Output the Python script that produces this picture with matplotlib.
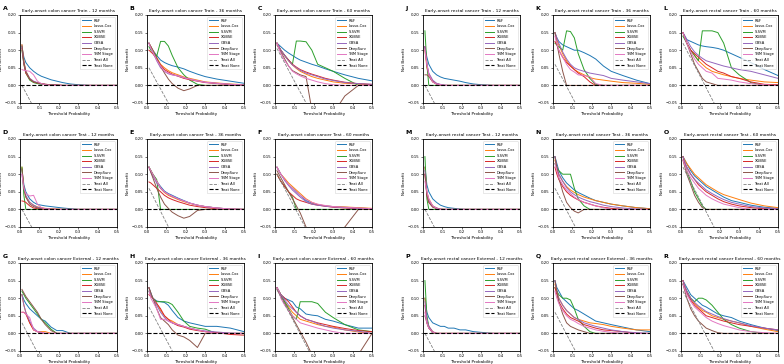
import numpy as np
import matplotlib
matplotlib.use("Agg")
import matplotlib.pyplot as plt

# threshold probabilities shared by every curve
thresholds = [0.01, 0.02, 0.03, 0.05, 0.07, 0.09, 0.11, 0.13, 0.16, 0.19, 0.22, 0.26, 0.3, 0.36, 0.43, 0.5]

models = ["RSF", "Lasso-Cox", "S-SVM", "XGBSE", "GBSA", "DeepSurv", "TNM Stage"]
model_colors = ["#1f77b4", "#ff7f0e", "#2ca02c", "#d62728", "#9467bd", "#8c564b", "#e377c2"]

cancers = ["colon", "rectal"]
cohorts = ["Train", "Test", "External"]
months = [12, 36, 60]

# net benefit per model (order of `models`) for each panel
nb_A = [
    [0.11, 0.08, 0.065, 0.05, 0.04, 0.032, 0.026, 0.022, 0.016, 0.012, 0.008, 0.004, 0.002, 0, 0, 0],
    [0.115, 0.07, 0.04, 0.02, 0.01, 0.007, 0.005, 0.003, 0.002, 0.001, 0, 0, 0, 0, 0, 0],
    [0.1, 0.06, 0.035, 0.015, 0.008, 0.005, 0.003, 0.002, 0.001, 0, 0, 0, 0, 0, 0, 0],
    [0.105, 0.06, 0.035, 0.018, 0.01, 0.007, 0.005, 0.003, 0.002, 0.001, 0, 0, 0, 0, 0, 0],
    [0.11, 0.065, 0.04, 0.02, 0.012, 0.008, 0.005, 0.003, 0.002, 0.001, 0, 0, 0, 0, 0, 0],
    [0.115, 0.065, 0.04, 0.018, 0.01, 0.007, 0.005, 0.003, 0.002, 0.001, 0, 0, 0, 0, 0, 0],
    [0.045, 0.043, 0.042, 0.04, 0.03, 0.012, 0.005, 0.002, 0, 0, 0, 0, 0, 0, 0, 0],
]
nb_B = [
    [0.12, 0.11, 0.1, 0.085, 0.072, 0.065, 0.06, 0.056, 0.052, 0.047, 0.04, 0.032, 0.025, 0.018, 0.012, 0.006],
    [0.12, 0.11, 0.1, 0.08, 0.06, 0.05, 0.042, 0.036, 0.03, 0.024, 0.02, 0.015, 0.01, 0.007, 0.004, 0.002],
    [0.11, 0.1, 0.095, 0.083, 0.125, 0.125, 0.112, 0.085, 0.05, 0.03, 0.015, 0.003, 0, 0, 0, 0],
    [0.1, 0.095, 0.09, 0.075, 0.058, 0.045, 0.038, 0.032, 0.026, 0.02, 0.016, 0.012, 0.008, 0.005, 0.002, 0],
    [0.12, 0.105, 0.095, 0.07, 0.05, 0.04, 0.033, 0.03, 0.027, 0.022, 0.018, 0.013, 0.009, 0.006, 0.003, 0.001],
    [0.12, 0.11, 0.1, 0.078, 0.055, 0.035, 0.018, 0.005, -0.008, -0.015, -0.01, 0, 0, 0, 0, 0],
    [0.12, 0.105, 0.095, 0.072, 0.055, 0.04, 0.035, 0.03, 0.027, 0.022, 0.018, 0.013, 0.009, 0.006, 0.003, 0.001],
]
nb_C = [
    [0.12, 0.115, 0.11, 0.1, 0.092, 0.085, 0.078, 0.072, 0.066, 0.06, 0.055, 0.047, 0.04, 0.03, 0.02, 0.013],
    [0.12, 0.11, 0.1, 0.085, 0.07, 0.058, 0.048, 0.04, 0.032, 0.025, 0.02, 0.015, 0.01, 0.006, 0.004, 0.002],
    [0.12, 0.11, 0.1, 0.085, 0.072, 0.06, 0.126, 0.126, 0.124, 0.1, 0.06, 0.05, 0.04, 0.02, 0, 0],
    [0.12, 0.11, 0.1, 0.085, 0.072, 0.06, 0.052, 0.045, 0.038, 0.032, 0.027, 0.02, 0.015, 0.009, 0.005, 0.003],
    [0.12, 0.11, 0.1, 0.085, 0.07, 0.058, 0.05, 0.043, 0.035, 0.03, 0.025, 0.018, 0.014, 0.008, 0.005, 0.003],
    [0.115, 0.105, 0.095, 0.075, 0.055, 0.042, 0.036, 0.03, 0.025, -0.07, -0.09, -0.09, -0.08, -0.03, 0, 0],
    [0.12, 0.105, 0.09, 0.07, 0.055, 0.04, 0.033, 0.027, 0.02, 0.015, 0.01, 0.005, 0.002, 0, 0, 0],
]
nb_D = [
    [0.115, 0.07, 0.05, 0.03, 0.02, 0.014, 0.012, 0.01, 0.008, 0.006, 0.004, 0.002, 0, 0, 0, 0],
    [0.12, 0.06, 0.035, 0.02, 0.012, 0.007, 0.005, 0.003, 0.002, 0.001, 0, 0, 0, 0, 0, 0],
    [0.12, 0.04, 0, 0, 0, 0, 0, 0, 0, 0, 0, 0, 0, 0, 0, 0],
    [0.024, 0.023, 0.02, 0.01, 0.004, 0.002, 0.001, 0, 0, 0, 0, 0, 0, 0, 0, 0],
    [0.1, 0.06, 0.04, 0.02, 0.012, 0.006, 0.004, 0.002, 0.001, 0, 0, 0, 0, 0, 0, 0],
    [0.115, 0.06, 0.035, 0.015, 0.008, 0.004, 0.002, 0.001, 0, 0, 0, 0, 0, 0, 0, 0],
    [0.1, 0.06, 0.045, 0.038, 0.04, 0.015, 0.005, 0.002, 0, 0, 0, 0, 0, 0, 0, 0],
]
nb_E = [
    [0.12, 0.11, 0.1, 0.08, 0.065, 0.052, 0.045, 0.04, 0.032, 0.025, 0.018, 0.012, 0.008, 0.004, 0.001, 0],
    [0.12, 0.11, 0.1, 0.08, 0.06, 0.048, 0.04, 0.035, 0.028, 0.022, 0.017, 0.012, 0.008, 0.004, 0.001, 0],
    [0.12, 0.11, 0.1, 0.085, 0, 0, 0, 0, 0, 0, 0, 0, 0, 0, 0, 0],
    [0.078, 0.075, 0.07, 0.06, 0.05, 0.04, 0.033, 0.028, 0.022, 0.017, 0.012, 0.008, 0.005, 0.002, 0, 0],
    [0.12, 0.105, 0.095, 0.075, 0.06, 0.05, 0.043, 0.037, 0.03, 0.024, 0.018, 0.012, 0.008, 0.004, 0.001, 0],
    [0.12, 0.105, 0.09, 0.06, 0.035, 0.015, 0.003, -0.008, -0.018, -0.025, -0.02, -0.003, 0, 0, 0, 0],
    [0.12, 0.11, 0.1, 0.08, 0.062, 0.05, 0.043, 0.038, 0.03, 0.024, 0.018, 0.012, 0.008, 0.004, 0.001, 0],
]
nb_F = [
    [0.12, 0.11, 0.1, 0.085, 0.07, 0.06, 0.05, 0.04, 0.025, 0.018, 0.013, 0.01, 0.008, 0.006, 0.004, 0.002],
    [0.12, 0.11, 0.1, 0.088, 0.075, 0.065, 0.055, 0.045, 0.03, 0.02, 0.014, 0.01, 0.008, 0.007, 0.005, 0.003],
    [0.1, 0.09, 0.08, 0.065, 0.05, 0.035, 0, 0, 0, 0, 0, 0, 0, 0, 0, 0],
    [0.1, 0.09, 0.08, 0.065, 0.05, 0.04, 0.03, 0.025, 0.02, 0.015, 0.012, 0.009, 0.006, 0.004, 0.002, 0.001],
    [0.12, 0.11, 0.1, 0.082, 0.068, 0.055, 0.045, 0.035, 0.022, 0.015, 0.012, 0.009, 0.007, 0.005, 0.003, 0.002],
    [0.11, 0.1, 0.09, 0.07, 0.05, 0.03, 0.01, -0.01, -0.05, -0.08, -0.09, -0.09, -0.08, -0.05, 0, 0],
    [0.12, 0.11, 0.1, 0.085, 0.07, 0.06, 0.05, 0.04, 0.028, 0.02, 0.015, 0.011, 0.008, 0.006, 0.004, 0.002],
]
nb_G = [
    [0.11, 0.095, 0.085, 0.07, 0.06, 0.05, 0.04, 0.035, 0.018, 0.008, 0.008, 0, 0, 0, 0, 0],
    [0.11, 0.08, 0.06, 0.03, 0.01, 0.005, 0.005, 0.005, 0, 0, 0, 0, 0, 0, 0, 0],
    [0.12, 0.11, 0.1, 0.085, 0.07, 0.055, 0.04, 0.03, 0.012, 0, 0, 0, 0, 0, 0, 0],
    [0.06, 0.06, 0.055, 0.03, 0.01, 0.005, 0, 0, 0, 0, 0, 0, 0, 0, 0, 0],
    [0.11, 0.08, 0.06, 0.035, 0.015, 0.005, 0.003, 0, 0, 0, 0, 0, 0, 0, 0, 0],
    [0.125, 0.115, 0.105, 0.09, 0.075, 0.06, 0.04, 0.025, 0.008, 0, 0, 0, 0, 0, 0, 0],
    [0.06, 0.06, 0.055, 0.045, 0.01, 0.005, 0.003, 0, 0, 0, 0, 0, 0, 0, 0, 0],
]
nb_H = [
    [0.13, 0.115, 0.1, 0.092, 0.09, 0.088, 0.08, 0.065, 0.045, 0.035, 0.03, 0.025, 0.02, 0.02, 0.015, 0.005],
    [0.13, 0.11, 0.1, 0.085, 0.065, 0.05, 0.04, 0.035, 0.025, 0.02, 0.015, 0.01, 0.005, 0.002, 0, 0],
    [0.12, 0.11, 0.1, 0.09, 0.09, 0.09, 0.088, 0.082, 0.06, 0.035, 0.02, 0.015, 0.012, 0, 0, 0],
    [0.11, 0.105, 0.1, 0.085, 0.07, 0.05, 0.04, 0.03, 0.022, 0.018, 0.012, 0.008, 0.005, 0.002, -0.003, -0.005],
    [0.13, 0.11, 0.1, 0.08, 0.06, 0.045, 0.035, 0.03, 0.025, 0.02, 0.015, 0.01, 0.007, 0.004, 0.001, 0],
    [0.13, 0.115, 0.1, 0.07, 0.045, 0.035, 0.025, 0.01, -0.005, -0.01, -0.02, -0.04, 0, 0, 0, 0],
    [0.12, 0.1, 0.09, 0.07, 0.04, 0.04, 0.035, 0.03, 0.025, 0.02, 0.015, 0.01, 0.005, 0, 0, 0],
]
nb_I = [
    [0.13, 0.12, 0.11, 0.1, 0.095, 0.09, 0.075, 0.07, 0.055, 0.052, 0.05, 0.04, 0.035, 0.025, 0.015, 0.015],
    [0.13, 0.12, 0.11, 0.09, 0.075, 0.06, 0.05, 0.04, 0.035, 0.03, 0.025, 0.02, 0.018, 0.01, 0.004, 0],
    [0.13, 0.12, 0.11, 0.09, 0.07, 0.05, 0.04, 0.09, 0.09, 0.09, 0.085, 0.06, 0.045, 0.025, 0.01, 0.005],
    [0.13, 0.12, 0.11, 0.1, 0.09, 0.075, 0.06, 0.05, 0.04, 0.035, 0.03, 0.025, 0.02, 0.014, 0.008, 0.005],
    [0.13, 0.12, 0.11, 0.095, 0.08, 0.07, 0.06, 0.05, 0.04, 0.035, 0.028, 0.02, 0.015, 0.01, 0.006, 0],
    [0.125, 0.115, 0.105, 0.085, 0.065, 0.045, 0.025, 0.005, -0.025, -0.06, -0.09, -0.1, -0.1, -0.09, -0.06, 0],
    [0.13, 0.12, 0.1, 0.08, 0.065, 0.05, 0.04, 0.03, 0.025, 0.02, 0.015, 0.01, 0.005, 0, 0, 0],
]
nb_J = [
    [0.11, 0.08, 0.06, 0.04, 0.03, 0.024, 0.02, 0.018, 0.015, 0.012, 0.008, 0.004, 0.002, 0, 0, 0],
    [0.1, 0.05, 0.03, 0.01, 0.005, 0.002, 0, 0, 0, 0, 0, 0, 0, 0, 0, 0],
    [0.155, 0.06, 0, 0, 0, 0, 0, 0, 0, 0, 0, 0, 0, 0, 0, 0],
    [0.11, 0.06, 0.03, 0.012, 0.005, 0.002, 0, 0, 0, 0, 0, 0, 0, 0, 0, 0],
    [0.11, 0.06, 0.035, 0.015, 0.006, 0.003, 0.001, 0, 0, 0, 0, 0, 0, 0, 0, 0],
    [0.03, 0.03, 0.025, 0.01, 0.003, 0, 0, 0, 0, 0, 0, 0, 0, 0, 0, 0],
    [0.1, 0.06, 0.03, 0.01, 0.004, 0.002, 0, 0, 0, 0, 0, 0, 0, 0, 0, 0],
]
nb_K = [
    [0.15, 0.135, 0.125, 0.115, 0.11, 0.105, 0.1, 0.1, 0.093, 0.085, 0.075, 0.055, 0.04, 0.028, 0.015, 0.005],
    [0.15, 0.13, 0.115, 0.09, 0.07, 0.055, 0.045, 0.038, 0.03, 0.022, 0.018, 0.015, 0.012, 0.008, 0.006, 0.003],
    [0.12, 0.115, 0.11, 0.1, 0.155, 0.153, 0.135, 0.09, 0.045, 0.02, 0.003, 0, 0, 0, 0, 0],
    [0.125, 0.115, 0.1, 0.08, 0.065, 0.055, 0.045, 0.035, 0.025, 0.01, 0, 0, 0, 0, 0, 0],
    [0.15, 0.135, 0.12, 0.095, 0.075, 0.06, 0.05, 0.045, 0.04, 0.035, 0.032, 0.028, 0.02, 0.015, 0.01, 0.005],
    [0.15, 0.12, 0.09, 0.04, 0, 0, 0, 0, 0, 0, 0, 0, 0, 0, 0, 0],
    [0.14, 0.12, 0.1, 0.08, 0.06, 0.045, 0.038, 0.03, 0.028, 0.025, 0.005, 0, 0, 0, 0, 0],
]
nb_L = [
    [0.15, 0.14, 0.13, 0.125, 0.12, 0.115, 0.112, 0.11, 0.108, 0.105, 0.1, 0.09, 0.08, 0.065, 0.045, 0.028],
    [0.15, 0.135, 0.12, 0.1, 0.085, 0.07, 0.06, 0.05, 0.04, 0.035, 0.03, 0.025, 0.02, 0.015, 0.01, 0.008],
    [0.14, 0.13, 0.12, 0.1, 0.085, 0.07, 0.155, 0.155, 0.155, 0.15, 0.12, 0.05, 0.03, 0.008, 0, 0],
    [0.15, 0.135, 0.12, 0.1, 0.09, 0.08, 0.07, 0.06, 0.05, 0.04, 0.035, 0.025, 0.02, 0.01, 0.003, 0.002],
    [0.15, 0.14, 0.13, 0.11, 0.095, 0.085, 0.077, 0.07, 0.065, 0.06, 0.055, 0.05, 0.045, 0.04, 0.03, 0.02],
    [0.15, 0.135, 0.12, 0.09, 0.06, 0.04, 0.02, 0.01, 0.005, 0, 0, 0, 0, 0, 0, 0],
    [0.15, 0.135, 0.12, 0.095, 0.075, 0.06, 0.05, 0.04, 0.035, 0.02, 0.018, 0.015, 0.01, 0.005, 0.002, 0],
]
nb_M = [
    [0.12, 0.07, 0.05, 0.03, 0.02, 0.012, 0.008, 0.005, 0.003, 0.001, 0, 0, 0, 0, 0, 0],
    [0.12, 0.05, 0.03, 0.01, 0.004, 0.001, 0, 0, 0, 0, 0, 0, 0, 0, 0, 0],
    [0.15, 0.03, 0, 0, 0, 0, 0, 0, 0, 0, 0, 0, 0, 0, 0, 0],
    [0.1, 0.04, 0.02, 0.008, 0.003, 0, 0, 0, 0, 0, 0, 0, 0, 0, 0, 0],
    [0.11, 0.05, 0.025, 0.01, 0.004, 0.001, 0, 0, 0, 0, 0, 0, 0, 0, 0, 0],
    [0.1, 0.04, 0.02, 0.006, 0.002, 0, 0, 0, 0, 0, 0, 0, 0, 0, 0, 0],
    [0.08, 0.05, 0.03, 0.01, 0.003, 0, 0, 0, 0, 0, 0, 0, 0, 0, 0, 0],
]
nb_N = [
    [0.15, 0.13, 0.11, 0.09, 0.075, 0.065, 0.055, 0.048, 0.04, 0.032, 0.025, 0.02, 0.015, 0.01, 0.005, 0.002],
    [0.14, 0.12, 0.1, 0.08, 0.065, 0.055, 0.048, 0.042, 0.035, 0.03, 0.025, 0.02, 0.015, 0.01, 0.005, 0.002],
    [0.13, 0.12, 0.11, 0.1, 0.1, 0.1, 0.06, 0.03, 0.01, 0, 0, 0, 0, 0, 0, 0],
    [0.12, 0.1, 0.085, 0.065, 0.05, 0.04, 0.033, 0.027, 0.02, 0.015, 0.01, 0.006, 0.003, 0, 0, 0],
    [0.15, 0.12, 0.1, 0.08, 0.062, 0.05, 0.042, 0.035, 0.028, 0.022, 0.018, 0.012, 0.008, 0.004, 0.001, 0],
    [0.15, 0.12, 0.09, 0.05, 0.02, 0.005, -0.005, -0.01, 0, 0, 0, 0, 0, 0, 0, 0],
    [0.13, 0.11, 0.09, 0.07, 0.055, 0.045, 0.035, 0.028, 0.02, 0.015, 0.01, 0.005, 0, 0, 0, 0],
]
nb_O = [
    [0.15, 0.14, 0.13, 0.11, 0.095, 0.085, 0.075, 0.065, 0.055, 0.045, 0.035, 0.025, 0.02, 0.012, 0.006, 0.003],
    [0.15, 0.14, 0.13, 0.115, 0.1, 0.09, 0.08, 0.07, 0.06, 0.05, 0.042, 0.035, 0.028, 0.018, 0.01, 0.005],
    [0.15, 0.13, 0.11, 0.08, 0.05, 0.03, 0.01, 0, 0, 0, 0, 0, 0, 0, 0, 0],
    [0.15, 0.13, 0.12, 0.1, 0.085, 0.07, 0.06, 0.05, 0.04, 0.03, 0.022, 0.015, 0.01, 0.005, 0.002, 0],
    [0.15, 0.135, 0.12, 0.1, 0.085, 0.075, 0.065, 0.055, 0.045, 0.036, 0.028, 0.02, 0.015, 0.008, 0.004, 0.002],
    [0.14, 0.12, 0.1, 0.07, 0.04, 0.02, 0.005, 0, 0, 0, 0, 0, 0, 0, 0, 0],
    [0.14, 0.125, 0.11, 0.09, 0.075, 0.06, 0.05, 0.04, 0.03, 0.022, 0.015, 0.01, 0.005, 0, 0, 0],
]
nb_P = [
    [0.1, 0.06, 0.045, 0.03, 0.025, 0.02, 0.02, 0.015, 0.015, 0.01, 0.01, 0.005, 0.003, 0, 0, 0],
    [0.1, 0.04, 0.02, 0.005, 0, 0, 0, 0, 0, 0, 0, 0, 0, 0, 0, 0],
    [0.15, 0.05, 0.02, 0, 0, 0, 0, 0, 0, 0, 0, 0, 0, 0, 0, 0],
    [0.08, 0.03, 0.015, 0.003, 0, 0, 0, 0, 0, 0, 0, 0, 0, 0, 0, 0],
    [0.09, 0.04, 0.02, 0.005, 0, 0, 0, 0, 0, 0, 0, 0, 0, 0, 0, 0],
    [0.05, 0.03, 0.015, 0.003, 0, 0, 0, 0, 0, 0, 0, 0, 0, 0, 0, 0],
    [0.06, 0.03, 0.015, 0.003, 0, 0, 0, 0, 0, 0, 0, 0, 0, 0, 0, 0],
]
nb_Q = [
    [0.15, 0.13, 0.12, 0.1, 0.09, 0.08, 0.07, 0.065, 0.055, 0.045, 0.035, 0.03, 0.025, 0.018, 0.01, 0.005],
    [0.14, 0.12, 0.1, 0.08, 0.065, 0.055, 0.045, 0.04, 0.035, 0.03, 0.028, 0.025, 0.02, 0.015, 0.01, 0.01],
    [0.13, 0.12, 0.11, 0.1, 0.1, 0.095, 0.07, 0.04, 0.02, 0.005, 0, 0, 0, 0, 0, 0],
    [0.13, 0.11, 0.09, 0.07, 0.055, 0.045, 0.04, 0.035, 0.025, 0.02, 0.015, 0.01, 0.008, 0.005, 0, 0],
    [0.15, 0.12, 0.1, 0.08, 0.065, 0.055, 0.045, 0.04, 0.03, 0.025, 0.02, 0.015, 0.01, 0.005, 0.002, 0],
    [0.15, 0.12, 0.09, 0.055, 0.03, 0.02, 0.015, 0.01, 0.005, 0, 0, 0, 0, 0, 0, 0],
    [0.12, 0.1, 0.085, 0.065, 0.05, 0.04, 0.035, 0.028, 0.02, 0.015, 0.01, 0.006, 0.003, 0, 0, 0],
]
nb_R = [
    [0.15, 0.14, 0.13, 0.11, 0.1, 0.09, 0.08, 0.075, 0.065, 0.055, 0.05, 0.045, 0.035, 0.025, 0.015, 0.008],
    [0.15, 0.135, 0.12, 0.1, 0.085, 0.075, 0.065, 0.06, 0.05, 0.045, 0.04, 0.035, 0.03, 0.02, 0.012, 0.005],
    [0.14, 0.13, 0.12, 0.1, 0.09, 0.1, 0.1, 0.095, 0.08, 0.06, 0.04, 0.025, 0.015, 0.005, 0, 0],
    [0.15, 0.13, 0.115, 0.095, 0.08, 0.07, 0.06, 0.05, 0.045, 0.04, 0.035, 0.03, 0.025, 0.02, 0.015, 0.01],
    [0.15, 0.135, 0.12, 0.1, 0.088, 0.078, 0.07, 0.062, 0.055, 0.048, 0.042, 0.035, 0.03, 0.022, 0.015, 0.01],
    [0.14, 0.12, 0.1, 0.07, 0.05, 0.035, 0.025, 0.015, 0.008, 0.002, 0, 0, 0, 0, 0, 0],
    [0.14, 0.125, 0.11, 0.09, 0.075, 0.065, 0.055, 0.045, 0.035, 0.028, 0.022, 0.016, 0.01, 0.005, 0.002, 0],
]

panel_letters = list("ABCDEFGHIJKLMNOPQR")
panel_data = [nb_A, nb_B, nb_C, nb_D, nb_E, nb_F, nb_G, nb_H, nb_I,
              nb_J, nb_K, nb_L, nb_M, nb_N, nb_O, nb_P, nb_Q, nb_R]

# Treat All line: net benefit at 0.01 and the threshold where it passes -0.06
treat_all_start = [0.0, 0.05, 0.105, 0.0, 0.06, 0.1, 0.03, 0.075, 0.125,
                   0.0, 0.06, 0.12, 0.0, 0.06, 0.12, 0.0, 0.06, 0.12]
treat_all_end = [0.068, 0.12, 0.17, 0.07, 0.12, 0.165, 0.095, 0.14, 0.185,
                 0.068, 0.125, 0.18, 0.068, 0.125, 0.18, 0.068, 0.125, 0.18]

W, H = 784, 364
fig = plt.figure(figsize=(W / 100, H / 100), dpi=100)

col_left = [20, 147, 275, 423, 553, 681]
row_top = [15, 139, 263]
ax_w, ax_h = 97, 88

for i, letter in enumerate(panel_letters):
    cancer = i // 9
    cohort = (i % 9) // 3
    month = i % 3
    col = cancer * 3 + month
    left = col_left[col] / W
    bottom = 1 - (row_top[cohort] + ax_h) / H
    ax = fig.add_axes([left, bottom, ax_w / W, ax_h / H])

    for name, color, nb in zip(models, model_colors, panel_data[i]):
        ax.plot(thresholds, nb, color=color, lw=0.7, label=name)
    ax.plot([0.01, treat_all_end[i]], [treat_all_start[i], -0.06],
            color="grey", ls="--", lw=0.6, label="Treat All")
    ax.plot([0, 0.5], [0, 0], color="black", ls="--", lw=0.8, label="Treat None")

    ax.set_xlim(0, 0.5)
    ax.set_ylim(-0.05, 0.2)
    ax.set_xticks(np.arange(0, 0.51, 0.1))
    ax.set_yticks(np.arange(-0.05, 0.201, 0.05))
    ax.set_xticklabels([f"{v:.1f}" for v in np.arange(0, 0.51, 0.1)])
    ax.set_yticklabels([f"{v:.2f}".replace("-", "\u2212") for v in np.arange(-0.05, 0.201, 0.05)])
    ax.tick_params(labelsize=2.8, length=1.5, width=0.4, pad=1)
    for s in ax.spines.values():
        s.set_linewidth(0.6)
    ax.set_xlabel("Threshold Probability", fontsize=3, labelpad=1)
    ax.set_ylabel("Net Benefit", fontsize=3, labelpad=1)
    ax.set_title(f"Early-onset {cancers[cancer]} cancer {cohorts[cohort]} - {months[month]} months",
                 fontsize=3.2, pad=2)
    ax.text(-0.18, 1.05, letter, transform=ax.transAxes, fontsize=4.5, fontweight="bold",
            ha="left", va="bottom")
    leg = ax.legend(loc="upper right", fontsize=2.6, handlelength=2.5, labelspacing=0.45,
                    borderpad=0.5, frameon=True, fancybox=True)
    leg.get_frame().set_linewidth(0.4)

fig.savefig("out.png", dpi=100)
